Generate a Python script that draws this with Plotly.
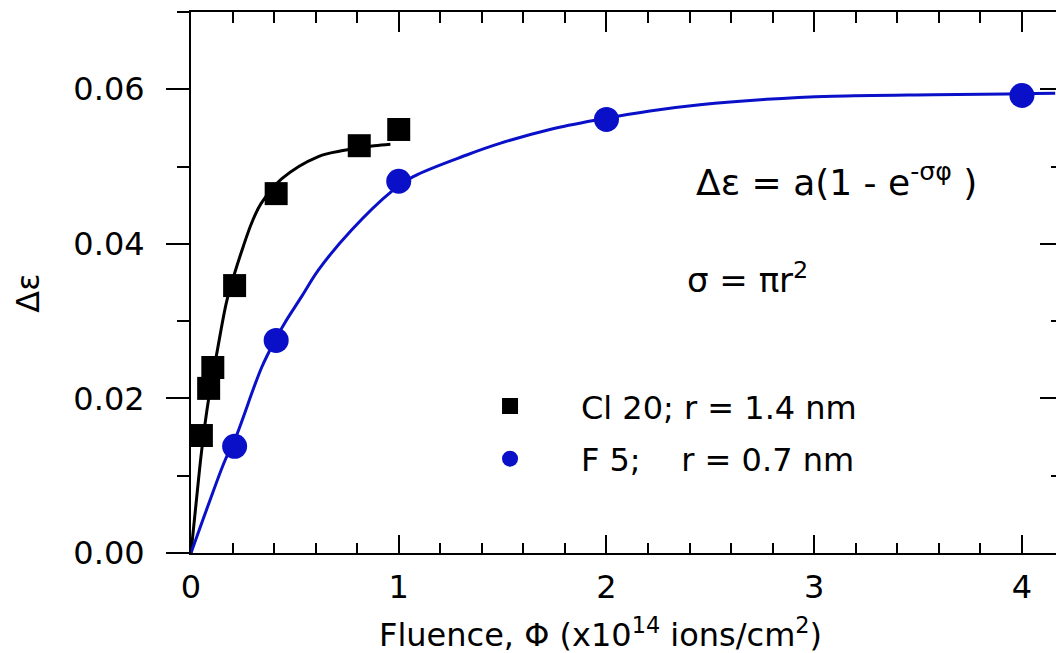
import plotly.graph_objects as go

# ---- data ----
cl_x = [0.05, 0.085, 0.105, 0.21, 0.41, 0.81, 1.0]
cl_y = [0.0152, 0.0213, 0.0240, 0.0346, 0.0465, 0.0527, 0.0548]

f_x = [0.21, 0.41, 1.0, 2.0, 4.0]
f_y = [0.0138, 0.0275, 0.0481, 0.0561, 0.0592]

# fitted curves as traced in the picture
cl_fit_x = [0, 0.027, 0.052, 0.083, 0.124, 0.172, 0.21, 0.252, 0.292, 0.337, 0.436, 0.613, 0.738, 0.882, 0.96]
cl_fit_y = [0, 0.0071, 0.0134, 0.0196, 0.0258, 0.0326, 0.0362, 0.0397, 0.0427, 0.0452, 0.0484, 0.0513, 0.0521, 0.0527, 0.0529]

f_fit_x = [0, 0.083, 0.164, 0.21, 0.34, 0.41, 0.452, 0.533, 0.613, 0.773, 0.966, 1.07,
           1.327, 1.487, 1.728, 1.968, 2.209, 2.45, 2.77, 3.09, 3.573, 3.926, 4.16]
f_fit_y = [0, 0.0062, 0.0120, 0.0146, 0.0240, 0.0278, 0.0298, 0.0332, 0.0366, 0.0418, 0.0468, 0.0487,
           0.0515, 0.0530, 0.0548, 0.0561, 0.0572, 0.0580, 0.0587, 0.0591, 0.0593, 0.0594, 0.0595]

x_ticks = [0, 1, 2, 3, 4]
y_ticks = [0.00, 0.02, 0.04, 0.06]
y_tick_text = ["0.00", "0.02", "0.04", "0.06"]

cl_name = "\u00a0\u00a0\u00a0\u00a0\u00a0Cl 20; r = 1.4 nm"
f_name = "\u00a0\u00a0\u00a0\u00a0\u00a0F 5;\u00a0\u00a0\u00a0\u00a0r = 0.7 nm"

BLUE = "#0A10C8"
FONT = "DejaVu Sans"

fig = go.Figure()

fig.add_trace(go.Scatter(x=cl_fit_x, y=cl_fit_y, mode="lines", line=dict(color="black", width=3, shape="spline"),
                         showlegend=False, hoverinfo="skip"))
fig.add_trace(go.Scatter(x=cl_x, y=cl_y, mode="markers", name=cl_name, legendgroup="a",
                         marker=dict(symbol="square", size=23, color="black"), cliponaxis=False))
fig.add_trace(go.Scatter(x=f_x, y=f_y, mode="markers", name=f_name, legendgroup="b",
                         marker=dict(symbol="circle", size=25, color=BLUE), cliponaxis=False))
# blue fit drawn on the overlaid (top / right) axis pair, which mirrors the main ranges
fig.add_trace(go.Scatter(x=f_fit_x, y=f_fit_y, xaxis="x2", yaxis="y2", mode="lines",
                         line=dict(color=BLUE, width=3, shape="spline"),
                         showlegend=False, hoverinfo="skip"))

xr = [0, 4.164]
yr = [0, 0.07]

fig.update_layout(
    width=1056, height=653,
    margin=dict(l=191, r=0, t=12, b=100),
    paper_bgcolor="white", plot_bgcolor="white",
    font=dict(family=FONT, size=32, color="black"),
    showlegend=True,
    legend=dict(x=0.3457, y=0.322, xanchor="left", yanchor="top", bgcolor="rgba(0,0,0,0)",
                font=dict(size=32, family=FONT), tracegroupgap=8, itemsizing="trace"),
    xaxis=dict(range=xr, tickvals=x_ticks, ticks="inside", ticklen=18, tickwidth=2, tickcolor="black",
               showline=True, linecolor="black", linewidth=2, showgrid=False, zeroline=False,
               ticklabelstandoff=5,
               minor=dict(dtick=0.2, ticks="inside", ticklen=10, tickwidth=2, tickcolor="black", showgrid=False)),
    xaxis2=dict(range=xr, overlaying="x", side="top", anchor="y2", tickvals=x_ticks,
                ticks="inside", ticklen=20, tickwidth=2, tickcolor="black", showticklabels=False,
                showline=True, linecolor="black", linewidth=2, showgrid=False, zeroline=False,
                minor=dict(dtick=0.2, ticks="inside", ticklen=11, tickwidth=2, tickcolor="black", showgrid=False)),
    yaxis=dict(range=yr, tickvals=y_ticks, ticktext=y_tick_text, ticks="outside", ticklen=23, tickwidth=2,
               tickcolor="black", showline=True, linecolor="black", linewidth=2, showgrid=False, zeroline=False,
               ticklabelstandoff=15,
               minor=dict(dtick=0.01, ticks="outside", ticklen=12, tickwidth=2, tickcolor="black", showgrid=False)),
    yaxis2=dict(range=yr, overlaying="y", side="right", anchor="x2", tickvals=y_ticks,
                ticks="inside", ticklen=16, tickwidth=2, tickcolor="black", showticklabels=False,
                showline=False, showgrid=False, zeroline=False,
                minor=dict(dtick=0.01, ticks="inside", ticklen=5, tickwidth=2, tickcolor="black", showgrid=False)),
    annotations=[
        dict(text="Fluence, \u03a6 (x10<sup>14</sup> ions/cm<sup>2</sup>)", xref="paper", yref="paper",
             x=0.473, y=-0.148, xanchor="center", yanchor="middle", showarrow=False,
             font=dict(size=32, family=FONT)),
        dict(text="\u0394\u03b5", xref="paper", yref="paper", x=-0.188, y=0.48, textangle=-90,
             xanchor="center", yanchor="middle", showarrow=False, font=dict(size=32, family=FONT)),
        dict(text="\u0394\u03b5 = a(1 - e<sup>-\u03c3\u03c6</sup> )", xref="paper", yref="paper",
             x=0.5815, y=0.69, xanchor="left", yanchor="middle", showarrow=False,
             font=dict(size=36, family=FONT)),
        dict(text="\u03c3 = \u03c0r<sup>2</sup>", xref="paper", yref="paper",
             x=0.571, y=0.509, xanchor="left", yanchor="middle", showarrow=False,
             font=dict(size=34, family=FONT)),
    ],
)

fig.write_html("out.html")
